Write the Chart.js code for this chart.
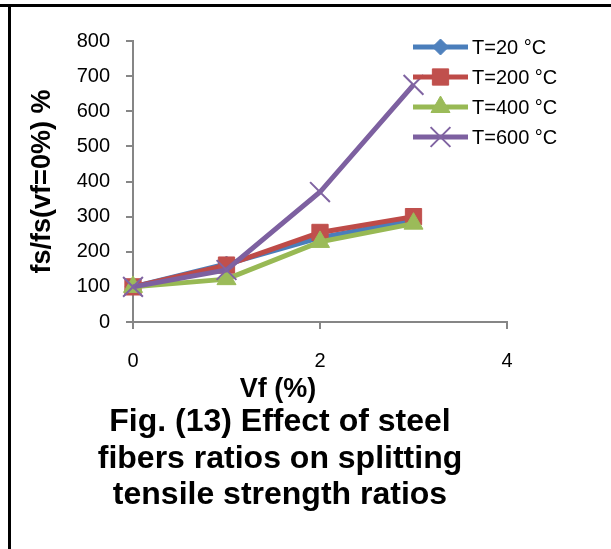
<!DOCTYPE html>
<html>
<head>
<meta charset="utf-8">
<script src="https://cdn.jsdelivr.net/npm/chart.js@4/dist/chart.umd.min.js"></script>
<style>
  html, body { margin: 0; padding: 0; background: #fff; }
  #wrap { position: relative; width: 611px; height: 549px; overflow: hidden; font-family: 'Liberation Sans', Arial, sans-serif; }
  #chart { position: absolute; left: 0; top: 0; }
  .rule-top { position: absolute; left: 0; top: 4px; width: 611px; height: 3px; background: #000; }
  .rule-left { position: absolute; left: 8px; top: 4px; width: 3px; height: 545px; background: #000; }
  .xtitle { position: absolute; left: 178px; width: 200px; top: 372px; text-align: center; font-weight: bold; font-size: 27px; line-height: 32px; color: #000; }
  .caption { position: absolute; left: 0; width: 560px; top: 402px; text-align: center; font-weight: bold; font-size: 32px; line-height: 36.5px; color: #000; }
</style>
</head>
<body>
<div id="wrap">
  <div class="rule-top"></div>
  <div class="rule-left"></div>
  <canvas id="chart" width="611" height="549"></canvas>
  <div class="xtitle">Vf (%)</div>
  <div class="caption">Fig. (13) Effect of steel<br>fibers ratios on splitting<br>tensile strength ratios</div>
</div>
<script>
// fiber volume fraction (%) and strength ratio per temperature
const vf = [0, 1, 2, 3];
const t20 = [100, 165, 240, 290];
const t200 = [100, 162, 255, 300];
const t400 = [100, 122, 228, 280];
const t600 = [100, 148, 370, 675];
const seriesLabels = ['T=20 °C', 'T=200 °C', 'T=400 °C', 'T=600 °C'];
const yTicks = [0, 100, 200, 300, 400, 500, 600, 700, 800];
const xTicks = [0, 2, 4];

const axisGrey = '#868686';
const fontFamily = "'Liberation Sans', Arial, sans-serif";

const toPoints = vals => vals.map((v, i) => ({ x: vf[i], y: v }));

const styles = [
  { line: '#4A7EBB', fill: '#4F81BD', pointStyle: 'rectRot', radius: 8, pbw: 1 },
  { line: '#BE4B48', fill: '#C0504D', pointStyle: 'rect', radius: 11.5, pbw: 1 },
  { line: '#98B954', fill: '#9BBB59', pointStyle: 'triangle', radius: 11, pbw: 1 },
  { line: '#7D60A0', fill: '#8064A2', pointStyle: 'crossRot', radius: 14, pbw: 2 },
];

const datasets = [t20, t200, t400, t600].map((vals, i) => ({
  label: seriesLabels[i],
  data: toPoints(vals),
  borderColor: styles[i].line,
  backgroundColor: styles[i].fill,
  borderWidth: 5,
  pointStyle: styles[i].pointStyle,
  pointRadius: styles[i].radius,
  pointBackgroundColor: styles[i].fill,
  pointBorderColor: styles[i].fill,
  pointBorderWidth: styles[i].pbw,
  tension: 0,
  clip: false,
  order: 4 - i,
}));

// legend with line + marker samples, drawn to the right of the plot
const sampleLegend = {
  id: 'sampleLegend',
  afterDraw(chart) {
    const ctx = chart.ctx;
    const x0 = 413, x1 = 468, top = 47, gap = 30;
    chart.data.datasets.forEach((ds, i) => {
      const y = top + i * gap;
      ctx.save();
      ctx.strokeStyle = ds.borderColor;
      ctx.lineWidth = 5;
      ctx.beginPath();
      ctx.moveTo(x0, y);
      ctx.lineTo(x1, y);
      ctx.stroke();
      ctx.fillStyle = ds.pointBackgroundColor;
      ctx.strokeStyle = ds.pointBorderColor;
      ctx.lineWidth = ds.pointBorderWidth;
      Chart.helpers.drawPoint(ctx, {
        pointStyle: ds.pointStyle,
        radius: ds.pointRadius,
        rotation: 0,
        borderWidth: ds.pointBorderWidth,
      }, (x0 + x1) / 2, y);
      ctx.fillStyle = '#000';
      ctx.font = '20px ' + fontFamily;
      ctx.textBaseline = 'middle';
      ctx.textAlign = 'left';
      ctx.fillText(ds.label, 472, y + 1);
      ctx.restore();
    });
  },
};

new Chart(document.getElementById('chart'), {
  type: 'line',
  data: { datasets },
  plugins: [sampleLegend],
  options: {
    responsive: false,
    animation: false,
    events: [],
    layout: { padding: { left: 0, top: 41, right: 104, bottom: 167 } },
    plugins: { legend: { display: false }, tooltip: { enabled: false } },
    scales: {
      x: {
        type: 'linear',
        min: 0,
        max: 4,
        afterFit: scale => { scale.height = 60; },
        afterBuildTicks: scale => { scale.ticks = xTicks.map(v => ({ value: v })); },
        border: { color: axisGrey, width: 2 },
        grid: { drawOnChartArea: false, drawTicks: true, tickLength: 7, color: axisGrey, lineWidth: 2 },
        ticks: { color: '#000', padding: 20, maxRotation: 0, font: { family: fontFamily, size: 20 } },
      },
      y: {
        min: 0,
        max: 800,
        afterFit: scale => { scale.width = 133; },
        afterBuildTicks: scale => { scale.ticks = yTicks.map(v => ({ value: v })); },
        border: { color: axisGrey, width: 2 },
        grid: { drawOnChartArea: false, drawTicks: true, tickLength: 7, color: axisGrey, lineWidth: 2 },
        ticks: { color: '#000', padding: 16, font: { family: fontFamily, size: 20 } },
        title: {
          display: true,
          text: 'fs/fs(vf=0%) %',
          color: '#000',
          padding: { top: 26, bottom: 0 },
          font: { family: fontFamily, size: 27, weight: 'bold' },
        },
      },
    },
  },
});
</script>
</body>
</html>
